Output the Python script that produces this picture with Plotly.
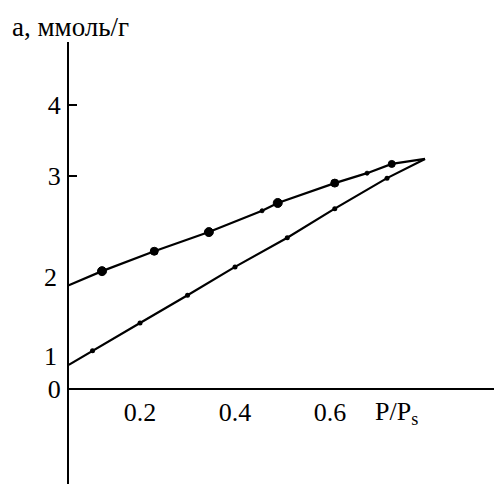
import plotly.graph_objects as go

# Data (x = P/Ps, y = a, mmol/g)
lower_x = [0.05, 0.10, 0.20, 0.30, 0.40, 0.51, 0.61, 0.72, 0.80]
lower_y = [0.34, 0.54, 0.93, 1.32, 1.72, 2.13, 2.54, 2.97, 3.24]
upper_x = [0.05, 0.12, 0.23, 0.345, 0.457, 0.49, 0.61, 0.678, 0.73, 0.80]
upper_y = [1.46, 1.66, 1.94, 2.21, 2.51, 2.62, 2.90, 3.04, 3.17, 3.24]

y_tick_vals = [0, 3, 4]
y_tick_text = ["0", "3", "4"]
x_tick_vals = [0.2, 0.4, 0.6]
x_tick_text = ["0.2", "0.4", "0.6"]
curve_labels = ["1", "2"]

# page has an 8px body margin: figure is placed at (8, 8)
W, H = 494, 476
ML, MT = 61, 34
PW, PH = W - ML, H - MT

x_range = [0.0505, 0.0505 + PW / 475]
y_range = [-(H - 381) / 71, (381 - MT) / 71]

FONT = "Liberation Serif"
FS = 26

fig = go.Figure()

# lines
fig.add_trace(go.Scatter(x=lower_x, y=lower_y, mode="lines",
                         line=dict(color="black", width=2.2), showlegend=False))
fig.add_trace(go.Scatter(x=upper_x, y=upper_y, mode="lines",
                         line=dict(color="black", width=2.2), showlegend=False))
# markers (exclude line start and apex)
fig.add_trace(go.Scatter(x=lower_x[1:-1], y=lower_y[1:-1], mode="markers",
                         marker=dict(color="#000000", size=5, opacity=1),
                         opacity=1, showlegend=False))
up_sizes = [9, 8, 9, 4, 9, 8, 4, 7]
fig.add_trace(go.Scatter(x=upper_x[1:-1], y=upper_y[1:-1], mode="markers",
                         marker=dict(color="#000000", size=up_sizes, opacity=1,
                                     symbol="circle",
                                     line=dict(color="#000000", width=1)),
                         opacity=1, showlegend=False))

xpos = (0 - y_range[0]) / (y_range[1] - y_range[0])

fig.update_layout(
    width=W, height=H,
    margin=dict(l=ML, r=0, t=MT, b=0, pad=0),
    paper_bgcolor="white", plot_bgcolor="white",
    font=dict(family=FONT, size=FS, color="black"),
    xaxis=dict(range=x_range, showgrid=False, zeroline=False,
               showline=True, linecolor="black", linewidth=2,
               anchor="free", position=xpos,
               tickvals=x_tick_vals, ticktext=x_tick_text,
               ticks="", ticklabelstandoff=0,
               tickfont=dict(family=FONT, size=FS, color="black")),
    yaxis=dict(range=y_range, showgrid=False, zeroline=False,
               showline=True, linecolor="black", linewidth=2,
               tickvals=y_tick_vals, ticktext=y_tick_text,
               ticks="inside", ticklen=8, tickwidth=2, tickcolor="black",
               ticklabelstandoff=1,
               tickfont=dict(family=FONT, size=FS, color="black")),
)

# curve number labels near the line starts
fig.add_annotation(x=x_range[0], y=lower_y[0], text=curve_labels[0],
                   showarrow=False, xanchor="right", yanchor="middle",
                   xshift=-10, yshift=8,
                   font=dict(family=FONT, size=FS, color="black"))
fig.add_annotation(x=x_range[0], y=upper_y[0], text=curve_labels[1],
                   showarrow=False, xanchor="right", yanchor="middle",
                   xshift=-10, yshift=8,
                   font=dict(family=FONT, size=FS, color="black"))

# axis titles
fig.add_annotation(xref="paper", yref="paper", x=(2 - ML) / PW, y=1 + 15 / PH,
                   text="a, ммоль/г", showarrow=False,
                   xanchor="left", yanchor="middle",
                   font=dict(family=FONT, size=27, color="black"))
fig.add_annotation(x=0.69, y=0, text="P/P<sub>s</sub>", showarrow=False,
                   xanchor="left", yanchor="top", yshift=-6,
                   font=dict(family=FONT, size=FS, color="black"))

fig.write_html("out.html")
